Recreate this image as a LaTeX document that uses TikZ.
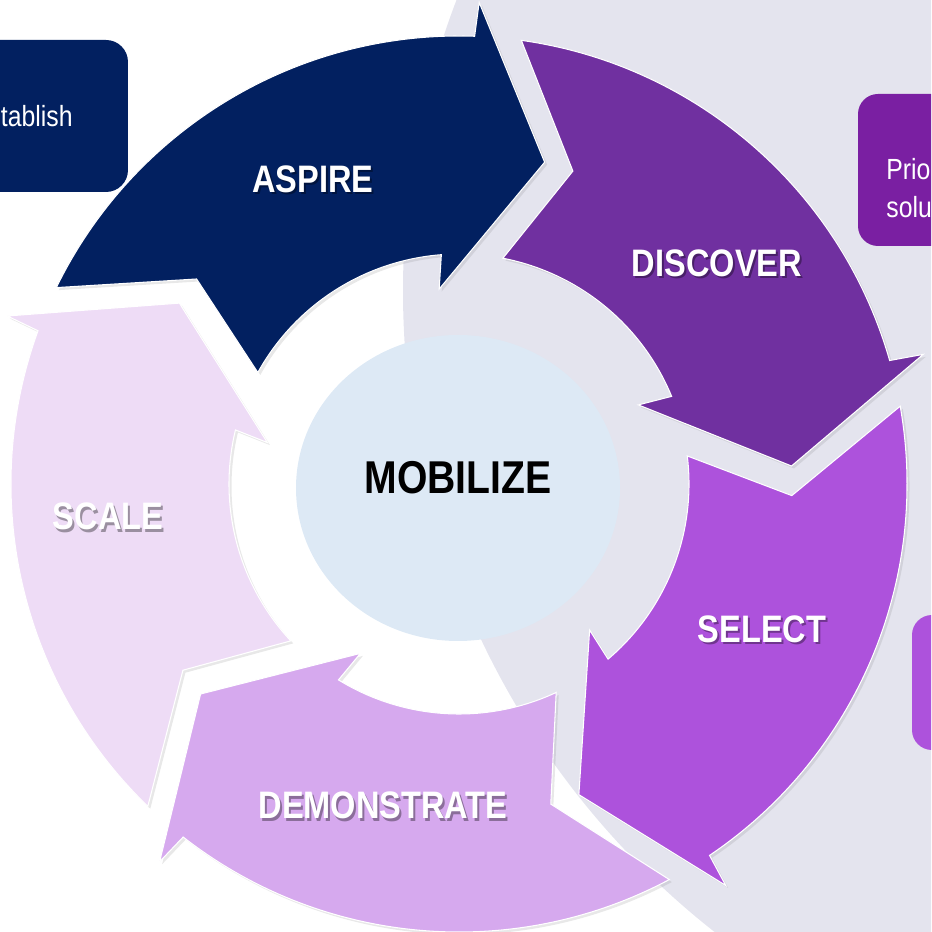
\documentclass[tikz,border=0pt]{standalone}
\usepackage{fontspec}
\setmainfont[FakeStretch=0.85]{Liberation Sans}
\usetikzlibrary{shadows}
\definecolor{navy}{HTML}{022060}
\definecolor{discover}{HTML}{7030A0}
\definecolor{selectc}{HTML}{AD52DC}
\definecolor{democ}{HTML}{D6A9EE}
\definecolor{scalec}{HTML}{EEDCF6}
\definecolor{mobil}{HTML}{DDE9F5}
\definecolor{haze}{HTML}{E4E4EE}
\definecolor{prioc}{HTML}{7A1FA2}

\begin{document}
\begin{tikzpicture}[x=0.02cm,y=0.02cm,
  phase/.style={font=\fontsize{21.8}{26}\selectfont\bfseries,text=white},
  phaseshadow/.style={phase,text=black,opacity=0.35},
  note/.style={font=\fontsize{16.6}{20}\selectfont,text=white,inner sep=0pt}]
\path[use as bounding box,clip] (-459,-448) rectangle (472,484);
\fill[haze] (759,193) circle[radius=815];

% boxes cut by the frame
\fill[navy,rounded corners=0.44cm] (-500,444) rectangle (-331,292);
\fill[prioc,rounded corners=0.4cm] (399,390) rectangle (520,238);
\fill[selectc,rounded corners=0.4cm] (453,-131) rectangle (520,-266);
\node[note,anchor=base east] (establish) at (-386,357) {tablish};
\node[note,anchor=base west] (prio) at (427,304) {Prio};
\node[note,anchor=base west] (solu) at (427,266) {solu};

% the five arrows of the cycle
\foreach \r/\c in {0/navy,-72/discover,-144/selectc,-216/democ,-288/scalec}
  \filldraw[fill=\c,draw=white,line width=0.6pt,
    drop shadow={opacity=0.18,shadow xshift=0.05cm,shadow yshift=-0.05cm}]
    ({\r+154}:448) -- ({\r+142}:333) -- ({\r+151}:230)
    arc[start angle=\r+151,end angle=\r+94.4,radius=230]
    -- ({\r+95.8}:196) -- ({\r+75.1}:333) -- ({\r+87.6}:482) -- ({\r+88}:448)
    arc[start angle=\r+88,end angle=\r+154,radius=448] -- cycle;

\fill[mobil] (-1,-4) ellipse[x radius=162,y radius=153];
\node[font=\fontsize{26.2}{30}\selectfont\bfseries] (mobilize) at (-1,6.5) {MOBILIZE};

\node[phaseshadow] at (-144,302.5) {ASPIRE};
\node[phase] (aspire) at (-146,305) {ASPIRE};
\node[phaseshadow] at (260,218.5) {DISCOVER};
\node[phase] (discover) at (258,221) {DISCOVER};
\node[phaseshadow] at (305,-147.5) {SELECT};
\node[phase] (select) at (303,-145) {SELECT};
\node[phaseshadow] at (-74,-324) {DEMONSTRATE};
\node[phase] (demonstrate) at (-76,-321.5) {DEMONSTRATE};
\node[phaseshadow] at (-349,-35) {SCALE};
\node[phase] (scale) at (-351,-32.5) {SCALE};
\end{tikzpicture}
\end{document}
